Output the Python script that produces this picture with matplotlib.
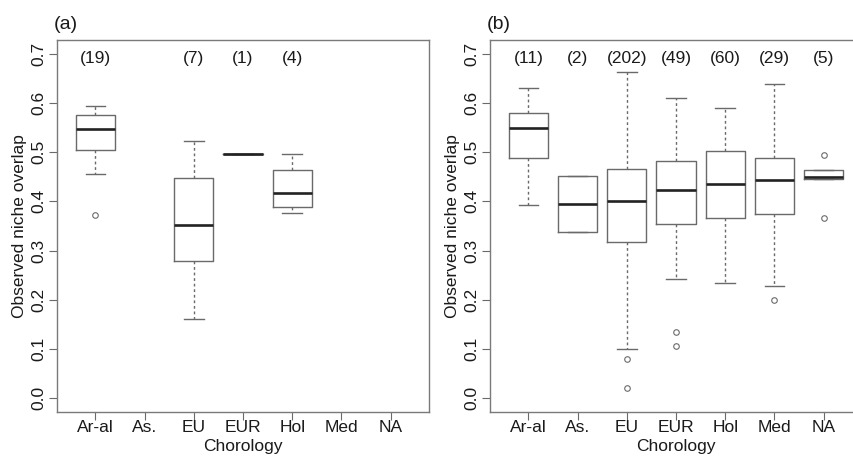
import matplotlib
matplotlib.use("Agg")
import matplotlib.pyplot as plt

plt.rcParams['font.family'] = ['Liberation Sans', 'DejaVu Sans']

Chorology = ["Ar-al", "As.", "EU", "EUR", "Hol", "Med", "NA"]

# panel (a): None = no species in that group
CountsA  = [19, None, 7, 1, 4, None, None]
WhisLoA  = [0.455, None, 0.161, 0.497, 0.376, None, None]
Q1A      = [0.504, None, 0.278, 0.497, 0.388, None, None]
MedA     = [0.547, None, 0.352, 0.497, 0.417, None, None]
Q3A      = [0.576, None, 0.448, 0.497, 0.463, None, None]
WhisHiA  = [0.593, None, 0.522, 0.497, 0.496, None, None]
FliersA  = [[0.372], [], [], [], [], [], []]

# panel (b)
CountsB  = [11, 2, 202, 49, 60, 29, 5]
WhisLoB  = [0.392, 0.337, 0.100, 0.243, 0.234, 0.229, 0.4457]
Q1B      = [0.489, 0.337, 0.3175, 0.354, 0.366, 0.374, 0.4457]
MedB     = [0.550, 0.395, 0.400, 0.423, 0.4355, 0.444, 0.4497]
Q3B      = [0.579, 0.452, 0.465, 0.482, 0.503, 0.489, 0.463]
WhisHiB  = [0.630, 0.452, 0.663, 0.6105, 0.590, 0.6376, 0.463]
FliersB  = [[], [], [0.079, 0.021], [0.134, 0.106], [], [0.199], [0.495, 0.366]]

BoxCol  = '#6a6a6a'
TextCol = '#1a1a1a'
FS = 12.5

fig = plt.figure(figsize=(8.54, 4.58), dpi=100)
AxA = fig.add_axes([57/854, 46/458, 372/854, 372/458])
AxB = fig.add_axes([490/854, 46/458, 372/854, 372/458])

def Panel(ax, counts, lo, q1, med, q3, hi, fliers, tag):
    stats = []
    pos = []
    for i in range(len(Chorology)):
        if counts[i] is None:
            continue
        stats.append(dict(whislo=lo[i], q1=q1[i], med=med[i], q3=q3[i],
                          whishi=hi[i], fliers=fliers[i]))
        pos.append(i + 1)
    ax.bxp(stats, positions=pos, widths=0.8, showcaps=True,
           boxprops=dict(color=BoxCol, linewidth=1.0),
           whiskerprops=dict(color=BoxCol, linewidth=1.0, linestyle=(0, (2, 2))),
           capprops=dict(color=BoxCol, linewidth=1.0),
           medianprops=dict(color='#222222', linewidth=1.9, solid_capstyle='butt'),
           flierprops=dict(marker='o', markersize=4, markerfacecolor='none',
                           markeredgecolor=BoxCol, markeredgewidth=0.8),
           capwidths=0.4)
    for i, c in enumerate(counts):
        if c is not None:
            ax.text(i + 1, 0.69, "(" + str(c) + ")", ha='center', va='center',
                    fontsize=FS, color=TextCol)
    ax.set_xlim(0.22, 7.78)
    ax.set_ylim(-0.028, 0.728)
    ax.set_xticks(range(1, len(Chorology) + 1))
    ax.set_xticklabels(Chorology)
    ax.set_yticks([0.0, 0.1, 0.2, 0.3, 0.4, 0.5, 0.6, 0.7])
    ax.set_yticklabels(["0.0", "0.1", "0.2", "0.3", "0.4", "0.5", "0.6", "0.7"],
                       rotation=90, va='center')
    ax.tick_params(axis='both', length=6, width=0.8, color=BoxCol,
                   labelsize=FS, labelcolor=TextCol)
    ax.tick_params(axis='x', pad=0)
    ax.tick_params(axis='y', pad=2)
    for sp in ax.spines.values():
        sp.set_color('#7a7a7a')
        sp.set_linewidth(1.0)
    ax.set_xlabel("Chorology", fontsize=FS, color=TextCol, labelpad=3)
    ax.set_ylabel("Observed niche overlap", fontsize=FS, color=TextCol, labelpad=3)
    ax.text(-0.01, 1.02, tag, transform=ax.transAxes, ha='left', va='bottom',
            fontsize=14, color=TextCol)

Panel(AxA, CountsA, WhisLoA, Q1A, MedA, Q3A, WhisHiA, FliersA, "(a)")
Panel(AxB, CountsB, WhisLoB, Q1B, MedB, Q3B, WhisHiB, FliersB, "(b)")

fig.savefig("out.png", dpi=100)
